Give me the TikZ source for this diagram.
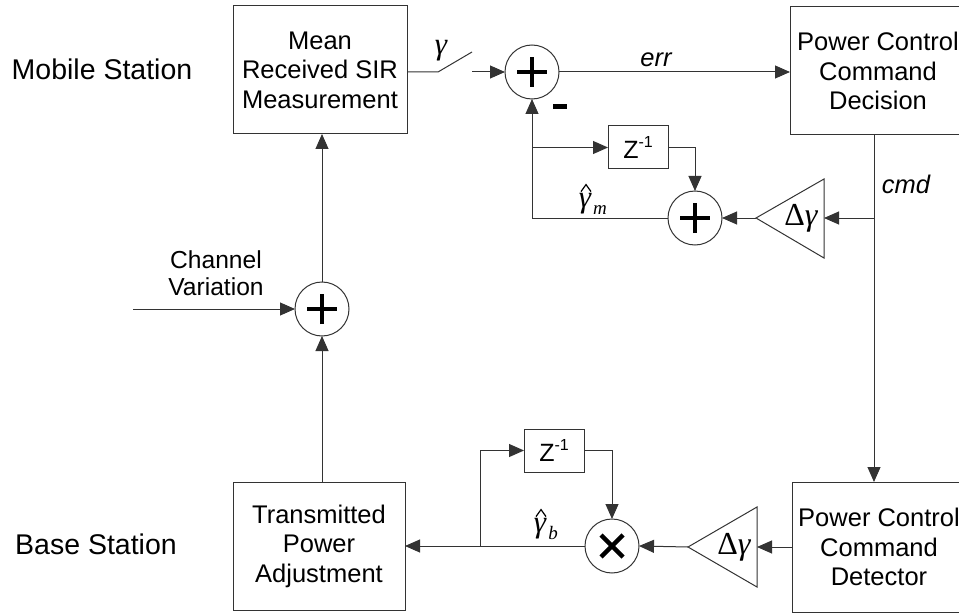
\documentclass[tikz,border=0pt]{standalone}
\usepackage{fontspec}
\setmainfont{Liberation Sans}
\newfontfamily\tnr{Liberation Serif}
\usetikzlibrary{arrows.meta,calc}
\begin{document}
\begin{tikzpicture}[x=1pt,y=-1pt,
  every node/.style={inner sep=0pt,outer sep=0pt},
  ln/.style={draw=black!80,line width=1pt},
  arr/.style={ln,-{Triangle[length=15pt,width=13pt]}},
  blk/.style={ln,rectangle,align=center,font=\fontsize{25.5}{29.5}\selectfont},
  sumc/.style={ln,circle,minimum size=54pt},
  zbox/.style={ln,rectangle,minimum width=60pt,minimum height=43pt,font=\fontsize{25}{25}\selectfont},
  sig/.style={font=\fontsize{25.5}{25.5}\selectfont\itshape},
  lbl/.style={font=\fontsize{28.5}{28.5}\selectfont},
  gain/.style={font=\fontsize{32}{32}\selectfont\tnr},
  gk/.style={font=\fontsize{31}{31}\selectfont\tnr\itshape},
  subk/.style={font=\fontsize{19}{19}\selectfont\tnr\itshape},
  hatline/.style={draw=black,line width=1.2pt,line join=miter},
  sgn/.style={line width=4.5pt,black}
]
\useasboundingbox (0,0) rectangle (959,615);

% labels
\node[lbl] (ms) at (102,69) {Mobile Station};
\node[lbl] (bs) at (96,544) {Base Station};

% blocks
\node[blk,minimum width=174pt,minimum height=128pt] (mean) at (320,70) {Mean\\Received SIR\\Measurement};
\node[blk,minimum width=176pt,minimum height=128pt] (pcd) at (878,71) {Power Control\\Command\\Decision};
\node[blk,minimum width=174pt,minimum height=130pt] (pcdet) at (879,547) {Power Control\\Command\\Detector};
\node[blk,minimum width=172pt,minimum height=128pt] (tpa) at (319,546) {Transmitted\\Power\\Adjustment};

% summing junctions
\node[sumc] (s1) at (532,72) {};
\node[sumc] (s2) at (695,218) {};
\node[sumc] (s3) at (322,309) {};
\node[sumc] (m1) at (612,546) {};
\draw[sgn] ([xshift=-15pt]s1.center) -- ([xshift=15pt]s1.center);
\draw[sgn] ([yshift=-15pt]s1.center) -- ([yshift=15pt]s1.center);
\draw[sgn] ([xshift=-15pt]s2.center) -- ([xshift=15pt]s2.center);
\draw[sgn] ([yshift=-15pt]s2.center) -- ([yshift=15pt]s2.center);
\draw[sgn] ([xshift=-15pt]s3.center) -- ([xshift=15pt]s3.center);
\draw[sgn] ([yshift=-15pt]s3.center) -- ([yshift=15pt]s3.center);
\draw[sgn] ([shift={(-11,-11)}]m1.center) -- ([shift={(11,11)}]m1.center);
\draw[sgn] ([shift={(-11,11)}]m1.center) -- ([shift={(11,-11)}]m1.center);
\node[fill=black,minimum width=14pt,minimum height=5pt] (minus) at (560,107) {};

% delay blocks
\node[zbox] (z1) at (638,147.5) {Z\raisebox{0.42em}{\fontsize{16}{16}\selectfont -1}};
\node[zbox] (z2) at (554,450.5) {Z\raisebox{0.42em}{\fontsize{16}{16}\selectfont -1}};

% gain triangles
\coordinate (t1base) at (824,218);
\coordinate (t1tip) at (756,218);
\draw[ln] (824,179) -- (824,258) -- (t1tip) -- cycle;
\node[gain] (g1) at (801,218) {Δ\itshape γ};
\coordinate (t2base) at (757,547);
\coordinate (t2tip) at (688,547);
\draw[ln] (757,507) -- (757,587) -- (t2tip) -- cycle;
\node[gain] (g2) at (734,547) {Δ\itshape γ};

% switch
\coordinate (swa) at (438,72);
\coordinate (swb) at (472,52);
\coordinate (swc) at (472,72);
\draw[ln] (mean.east |- s1) -- (swa) -- (swb);
\draw[arr] (swc) -- (s1.west);
\node[gk] (gam) at (441,51) {γ};

% forward path
\draw[arr] (s1.east) -- (s1.east -| pcd.west);
\node[sig] (err) at (656,60) {err};
\coordinate (cmdtop) at (874,135);
\draw[arr] (cmdtop) -- (cmdtop |- pcdet.north);
\node[sig] (cmd) at (906,184) {cmd};

% mobile feedback
\draw[arr] (cmdtop |- t1base) -- (t1base);
\draw[arr] (t1tip) -- (s2.east);
\draw[arr] (s2.west) -- (s1 |- s2) -- (s1.south);
\draw[arr] (s1 |- z1) -- (z1.west);
\draw[arr] (z1.east) -- (s2 |- z1.east) -- (s2.north);
\node[gk] (gm) at (585,204) {γ};
\node[subk] (gms) at (600,210) {m};
\draw[hatline] ([shift={(-4,-2)}]gm.north) -- ([shift={(1,-9)}]gm.north) -- ([shift={(6,-2)}]gm.north);

% base station loop
\draw[arr] (pcdet.west |- t2base) -- (t2base);
\draw[arr] (t2tip) -- (m1.east);
\draw[arr] (m1.west) -- (m1.west -| tpa.east);
\coordinate (br2) at (480,546);
\draw[arr] (br2) -- (br2 |- z2) -- (z2.west);
\draw[arr] (z2.east) -- (m1 |- z2.east) -- (m1.north);
\node[gk] (gb) at (540,529) {γ};
\node[subk] (gbs) at (553,533) {b};
\draw[hatline] ([shift={(-4,-2)}]gb.north) -- ([shift={(1,-9)}]gb.north) -- ([shift={(6,-2)}]gb.north);

% channel
\draw[arr] (s3 |- tpa.north) -- (s3.south);
\draw[arr] (s3.north) -- (s3 |- mean.south);
\coordinate (chin) at (133,309);
\draw[arr] (chin) -- (s3.west);
\node[align=center,font=\fontsize{24.6}{27}\selectfont] (chv) at (216,273) {Channel\\Variation};
\end{tikzpicture}
\end{document}
